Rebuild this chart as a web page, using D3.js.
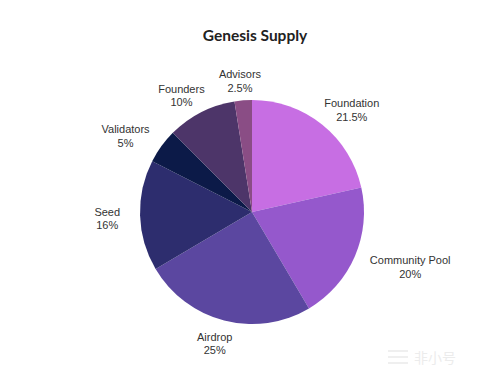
<!DOCTYPE html>
<html>
<head>
<meta charset="utf-8">
<script src="https://cdn.jsdelivr.net/npm/d3@7"></script>
<style>
  body { margin: 0; background: #fff; }
  svg { display: block; }
</style>
</head>
<body>
<svg id="chart" width="483" height="378"></svg>
<script>
var categories = ["Foundation", "Community Pool", "Airdrop", "Seed", "Validators", "Founders", "Advisors"];
var shares = [21.5, 20, 25, 16, 5, 10, 2.5];
var shareLabels = ["21.5%", "20%", "25%", "16%", "5%", "10%", "2.5%"];
var colors = ["#c76ee3", "#9558cc", "#5b47a0", "#2d2d6e", "#0c1a48", "#4d3569", "#8a4d85"];

var width = 483, height = 378;
var cx = 252, cy = 212, radius = 112;

var svg = d3.select("#chart");

svg.append("text")
    .attr("x", 255)
    .attr("y", 41)
    .attr("text-anchor", "middle")
    .style("font-family", "Lato, 'Open Sans', sans-serif")
    .style("font-size", "15.5px")
    .style("font-weight", "bold")
    .style("fill", "#222")
    .text("Genesis Supply");

var pie = d3.pie().sort(null).value(function(d) { return d; });
var arcs = pie(shares);
var arc = d3.arc().innerRadius(0).outerRadius(radius);

var g = svg.append("g").attr("transform", "translate(" + cx + "," + cy + ")");

g.selectAll("path.slice")
    .data(arcs)
    .enter()
    .append("path")
    .attr("class", "slice")
    .attr("d", arc)
    .style("fill", function(d, i) { return colors[i]; });

// labels outside the pie, box pushed away from the centre
var labels = g.selectAll("g.label")
    .data(arcs)
    .enter()
    .append("g")
    .attr("class", "label");

labels.append("text")
    .attr("class", "name")
    .attr("text-anchor", "middle")
    .attr("dy", "-0.1em")
    .style("font-family", "'Liberation Sans', Arial, sans-serif")
    .style("font-size", "11px")
    .style("fill", "#333")
    .text(function(d, i) { return categories[i]; });

labels.append("text")
    .attr("class", "value")
    .attr("text-anchor", "middle")
    .attr("dy", "1.15em")
    .style("font-family", "'Liberation Sans', Arial, sans-serif")
    .style("font-size", "11px")
    .style("fill", "#333")
    .text(function(d, i) { return shareLabels[i]; });

labels.attr("transform", function(d) {
    var a = (d.startAngle + d.endAngle) / 2;
    var s = Math.sin(a), c = Math.cos(a);
    var box = this.getBBox();
    var x = s * (radius + 20 + box.width / 2);
    var y = -c * (radius + 8.5 + box.height / 2) + 0.5;
    return "translate(" + x + "," + y + ")";
});

// faint watermark
var wm = svg.append("g").attr("transform", "translate(388,350)").style("opacity", 0.4);
wm.append("rect").attr("x", 0).attr("y", 0).attr("width", 20).attr("height", 2).style("fill", "#d8d8d8");
wm.append("rect").attr("x", 0).attr("y", 6).attr("width", 20).attr("height", 2).style("fill", "#d8d8d8");
wm.append("rect").attr("x", 0).attr("y", 12).attr("width", 20).attr("height", 2).style("fill", "#d8d8d8");
wm.append("text")
    .attr("x", 26)
    .attr("y", 13)
    .style("font-family", "'Noto Sans CJK SC', sans-serif")
    .style("font-size", "14px")
    .style("fill", "#d0d0d0")
    .text("非小号");
</script>
</body>
</html>
